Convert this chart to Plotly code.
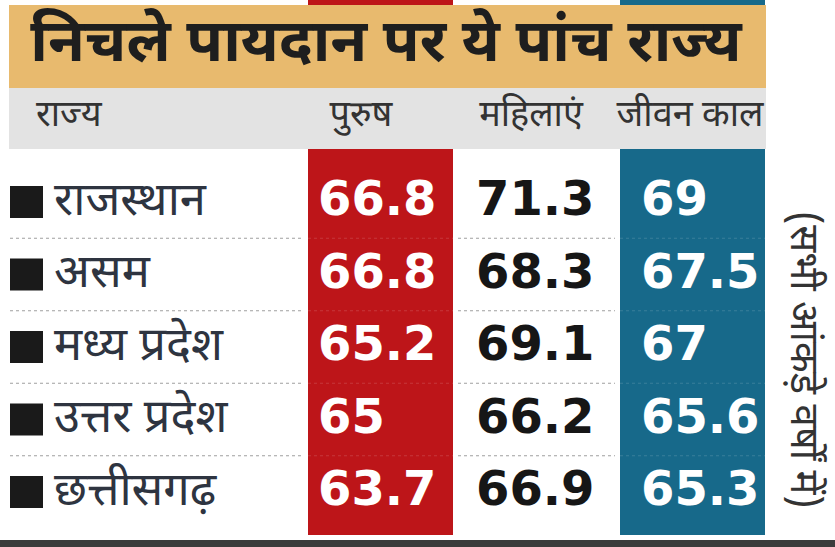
import plotly.graph_objects as go

# ---- data ----
title = "निचले पायदान पर ये पांच राज्य"
headers = ["राज्य", "पुरुष", "महिलाएं", "जीवन काल"]
states = ["राजस्थान", "असम", "मध्य प्रदेश", "उत्तर प्रदेश", "छत्तीसगढ़"]
male = ["66.8", "66.8", "65.2", "65", "63.7"]
female = ["71.3", "68.3", "69.1", "66.2", "66.9"]
lifespan = ["69", "67.5", "67", "65.6", "65.3"]
note = "(सभी आंकड़े वर्षों में)"

W, H = 835, 547
RED = "#BD1519"
TEAL = "#17698A"
TAN = "#E8BA6E"
GRAY = "#E3E3E3"
DEV = "Noto Sans Devanagari, Noto Sans, Lohit Devanagari, sans-serif"
NUM = "DejaVu Sans"

row0, rstep = 203, 72.5
rows_y = [row0 + i * rstep for i in range(len(states))]

fig = go.Figure()

shapes = []
shapes.append(dict(type="rect", x0=9, x1=766, y0=5, y1=88, fillcolor=TAN, line_width=0, layer="below"))
shapes.append(dict(type="rect", x0=9, x1=766, y0=88, y1=149, fillcolor=GRAY, line_width=0, layer="below"))
shapes.append(dict(type="rect", x0=308, x1=453, y0=0, y1=5, fillcolor=RED, line_width=0, layer="below"))
shapes.append(dict(type="rect", x0=620, x1=765, y0=0, y1=5, fillcolor=TEAL, line_width=0, layer="below"))
shapes.append(dict(type="rect", x0=308, x1=453, y0=149, y1=535, fillcolor=RED, line_width=0, layer="below"))
shapes.append(dict(type="rect", x0=620, x1=765, y0=149, y1=535, fillcolor=TEAL, line_width=0, layer="below"))
shapes.append(dict(type="rect", x0=0, x1=W, y0=540, y1=547, fillcolor="#3B3B3B", line_width=0, layer="below"))
for i in range(len(states) - 1):
    ys = (rows_y[i] + rows_y[i + 1]) / 2 - 1
    for (a, b) in [(10, 304), (458, 615)]:
        shapes.append(dict(type="line", x0=a, x1=b, y0=ys, y1=ys,
                           line=dict(color="#A0A0A0", width=1.2, dash="dot"), layer="below"))
    for (a, b) in [(308, 453), (620, 765)]:
        shapes.append(dict(type="line", x0=a, x1=b, y0=ys, y1=ys,
                           line=dict(color="rgba(255,255,255,0.15)", width=1, dash="dot"), layer="below"))
for y in rows_y:
    shapes.append(dict(type="rect", x0=10, x1=43, y0=y - 17, y1=y + 15, fillcolor="#1A1A1A", line_width=0))

fig.add_trace(go.Scatter(x=[386], y=[46], mode="text", text=[title], textposition="middle center",
                         textfont=dict(family=DEV, size=60, color="#1E1E1E", weight="bold"),
                         hoverinfo="skip", showlegend=False))
hx = [36, 361, 531, 690]
hpos = ["middle right", "middle center", "middle center", "middle center"]
for x, t, p in zip(hx, headers, hpos):
    fig.add_trace(go.Scatter(x=[x], y=[117], mode="text", text=[t], textposition=p,
                             textfont=dict(family=DEV, size=36, color="#333333"),
                             hoverinfo="skip", showlegend=False))
fig.add_trace(go.Scatter(x=[54] * len(states), y=rows_y, mode="text", text=states, textposition="middle right",
                         textfont=dict(family=DEV, size=47, color="#2E3440"),
                         hoverinfo="skip", showlegend=False))
for xs, vals, col in [(318, male, "white"), (476, female, "#161616"), (641, lifespan, "white")]:
    fig.add_trace(go.Scatter(x=[xs] * len(vals), y=rows_y, mode="text", text=vals, textposition="middle right",
                             textfont=dict(family=NUM, size=48, color=col, weight="bold"),
                             hoverinfo="skip", showlegend=False))

fig.update_layout(
    width=W, height=H, margin=dict(l=0, r=0, t=0, b=0),
    paper_bgcolor="white", plot_bgcolor="white",
    xaxis=dict(range=[0, W], visible=False, fixedrange=True),
    yaxis=dict(range=[H, 0], visible=False, fixedrange=True),
    shapes=shapes,
    annotations=[dict(x=801, y=360, xref="x", yref="y", text=note, textangle=90, showarrow=False,
                      font=dict(family=DEV, size=40, color="#333333"))],
)

fig.write_html("out.html", config={"displayModeBar": False},
               post_script="document.body.style.margin='0';document.body.style.overflow='hidden';")
